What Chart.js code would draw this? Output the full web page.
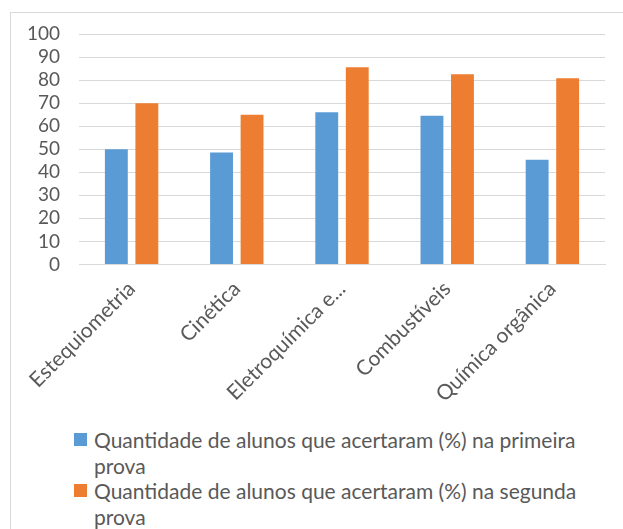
<!DOCTYPE html>
<html lang="pt">
<head>
<meta charset="UTF-8">
<title>Quantidade de alunos que acertaram</title>
<script src="https://cdn.jsdelivr.net/npm/chart.js"></script>
<style>
    body {
        margin: 0;
        background: #fff;
        font-family: Lato, "Open Sans", sans-serif;
        overflow: hidden;
    }
    .frame {
        position: absolute;
        left: 10px;
        top: 12px;
        width: 700px;
        height: 600px;
        border-left: 1px solid #d9d9d9;
        border-top: 1px solid #d9d9d9;
    }
    .chart-wrapper {
        position: absolute;
        left: 0;
        top: 0;
        width: 623px;
        height: 415px;
    }
    #legend {
        position: absolute;
        left: 74px;
        top: 427px;
        width: 505px;
        color: #595959;
        font-size: 21px;
        line-height: 25.5px;
    }
    .leg-item {
        position: relative;
        padding-left: 20px;
    }
    .leg-box {
        position: absolute;
        left: 0;
        top: 6px;
        width: 13px;
        height: 13px;
    }
</style>
</head>
<body>
<div class="frame"></div>
<div class="chart-wrapper">
    <canvas id="grafico"></canvas>
</div>
<div id="legend"></div>

<script>
    const categorias = ['Estequiometria', 'Cinética', 'Eletroquímica e...', 'Combustíveis', 'Química orgânica'];
    const primeiraProva = [50, 48.6, 66, 64.5, 45.4];
    const segundaProva = [70, 65, 85.6, 82.5, 80.8];
    const nomesSeries = [
        'Quantidade de alunos que acertaram (%) na primeira prova',
        'Quantidade de alunos que acertaram (%) na segunda prova'
    ];

    const azul = '#5b9bd5';
    const laranja = '#ed7d31';

    const ctx = document.getElementById('grafico').getContext('2d');
    const grafico = new Chart(ctx, {
        type: 'bar',
        data: {
            labels: categorias,
            datasets: [
                { label: nomesSeries[0], data: primeiraProva, backgroundColor: azul },
                { label: nomesSeries[1], data: segundaProva, backgroundColor: laranja }
            ]
        },
        options: {
            responsive: true,
            maintainAspectRatio: false,
            animation: false,
            categoryPercentage: 0.58,
            barPercentage: 0.75,
            layout: { padding: { top: 34, left: 27, right: 18, bottom: 4 } },
            plugins: {
                legend: { display: false },
                tooltip: { enabled: false }
            },
            scales: {
                x: {
                    grid: { display: false },
                    border: { color: '#d9d9d9' },
                    ticks: {
                        color: '#595959',
                        font: { family: 'Lato', size: 21 },
                        minRotation: 45,
                        maxRotation: 45,
                        autoSkip: false,
                        padding: 4
                    },
                    // os rótulos inclinados não devem empurrar a área do gráfico
                    afterFit: (scale) => {
                        scale.paddingLeft = 0;
                        scale.paddingRight = 0;
                    }
                },
                y: {
                    min: 0,
                    max: 100,
                    border: { display: false },
                    grid: { color: '#d9d9d9', drawTicks: false },
                    ticks: {
                        stepSize: 10,
                        autoSkip: false,
                        color: '#595959',
                        font: { family: 'Lato', size: 19 },
                        padding: 19
                    },
                    afterFit: (scale) => {
                        scale.width = 52;
                    }
                }
            }
        }
    });

    // legenda em HTML para quebrar o texto como no original
    const legenda = document.getElementById('legend');
    grafico.data.datasets.forEach(ds => {
        const item = document.createElement('div');
        item.className = 'leg-item';
        const box = document.createElement('span');
        box.className = 'leg-box';
        box.style.background = ds.backgroundColor;
        item.appendChild(box);
        item.appendChild(document.createTextNode(ds.label));
        legenda.appendChild(item);
    });
</script>
</body>
</html>
